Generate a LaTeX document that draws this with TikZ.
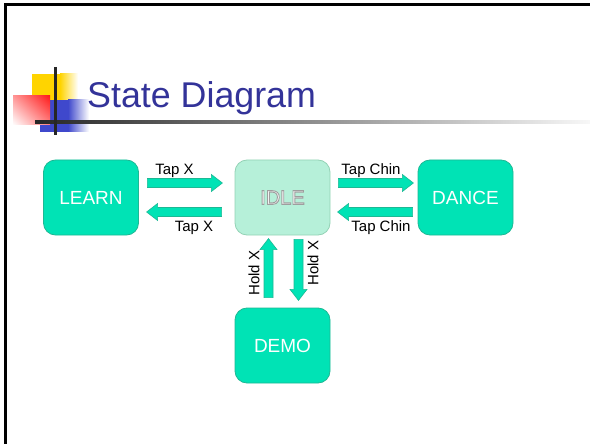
\documentclass[tikz,border=0pt]{standalone}
\usepackage{fontspec}
\setmainfont{Liberation Sans}
\usetikzlibrary{calc,shadings}

\definecolor{statefill}{HTML}{00E3B5}
\definecolor{stateedge}{HTML}{1DB894}
\definecolor{idlefill}{HTML}{B6F0D9}
\definecolor{idleedge}{HTML}{93D2B5}
\definecolor{titleblue}{HTML}{333399}
\definecolor{logoyellow}{HTML}{FFD400}
\definecolor{logoblue}{HTML}{3F48CC}
\definecolor{logored}{HTML}{FF1A1A}

% block arrow: #1 tail point, #2 direction angle, #3 length
\newcommand\blockarr[3]{%
  \begin{scope}[shift={#1}, rotate=#2]
    \draw[flow] (0,-4.5) -- ({#3-11},-4.5) -- ({#3-11},-8.5) -- (#3,0)
      -- ({#3-11},8.5) -- ({#3-11},4.5) -- (0,4.5) -- cycle;
  \end{scope}}

% white letters with a grey outline (fill + stroke render mode)
\newcommand\outlined[1]{%
  \special{pdf:code q 2 Tr 0.9 w 0.62 G}#1\special{pdf:code Q}}

\begin{document}
\begin{tikzpicture}[x=1pt,y=-1pt,
  state/.style={draw=stateedge, fill=statefill, line width=0.8,
    rounded corners=12, minimum width=95, minimum height=75, inner sep=0,
    text=white, font=\fontsize{19}{19}\selectfont},
  idlestate/.style={state, draw=idleedge, fill=idlefill},
  flow/.style={draw=stateedge, fill=statefill, line width=0.6, line join=miter},
  lbl/.style={font=\fontsize{15}{15}\selectfont, inner sep=0},
  idletext/.style={font=\fontsize{20}{20}\selectfont, inner sep=0}]

\useasboundingbox (0,0) rectangle (590,444);

% slide frame
\draw[line width=2.6, line join=miter] (5.3,444) -- (5.3,4.3) -- (590,4.3);

% title decoration
\fill[logoyellow] (32,74) rectangle (60,103);
\shade[left color=logoyellow, right color=white] (60,74) rectangle (78,103);
\fill[logoblue] (40,100) rectangle (68,132);
\shade[left color=logoblue, right color=white] (68,100) rectangle (89,132);
\shade[upper right=logored, upper left=logored!45, lower right=logored!55,
  lower left=white] (13,96) rectangle (50,125);
\shade[left color=black!85, right color=black!3] (35,121) rectangle (590,124);
\draw[line width=3, black!85] (55,67) -- (55,135);

\node[anchor=base west, text=titleblue, inner sep=0,
  font=\fontsize{35.8}{36}\selectfont] (title) at (87,107.5) {State Diagram};

% states
\node[state] (learn) at (91,197.5) {LEARN};
\node[idlestate, idletext, text=white] (idle) at (282.5,197.5) {\outlined{IDLE}};
\node[state] (dance) at (465.5,197.5) {DANCE};
\node[state] (demo) at (282.5,345.5) {DEMO};

% transitions
\blockarr{($(learn.east)+(8.5,-14.5)$)}{0}{75}
\blockarr{($(idle.west)+(-13,14.5)$)}{180}{75}
\blockarr{($(idle.east)+(8,-14.5)$)}{0}{75}
\blockarr{($(dance.west)+(-5,14.5)$)}{180}{75}
\blockarr{($(demo.north)+(-14,-10)$)}{90}{59}
\blockarr{($(idle.south)+(16,4)$)}{-90}{61}

% transition labels
\node[lbl] (l1) at (174.5,171) {Tap X};
\node[lbl] (l2) at (194,228) {Tap X};
\node[lbl] (l3) at (371,171) {Tap Chin};
\node[lbl] (l4) at (381,228) {Tap Chin};
\node[lbl, rotate=90] (l5) at (254,273) {Hold X};
\node[lbl, rotate=90] (l6) at (313,263) {Hold X};
\end{tikzpicture}
\end{document}
